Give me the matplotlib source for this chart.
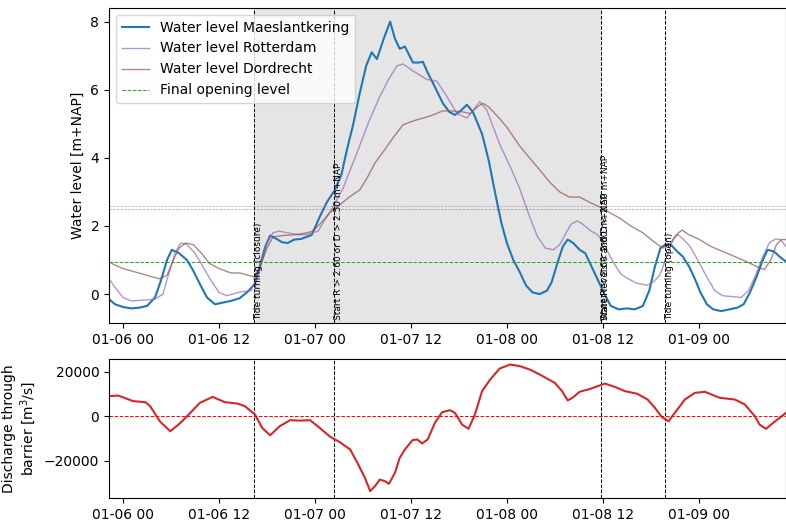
import numpy as np
import pandas as pd
import matplotlib
matplotlib.use("Agg")
import matplotlib.pyplot as plt
import matplotlib.dates as mdates
import matplotlib.transforms as mtransforms

# time axis: hours after 2023-01-06 00:00
base = pd.Timestamp("2023-01-06 00:00")

maes_hours = [-1.75, -1.0, 0.0, 1.0, 2.0, 3.0, 4.0, 4.75, 5.5, 6.1, 7.0, 8.0, 8.75, 9.6,
              10.5, 11.5, 12.5, 13.5, 14.6, 15.5, 16.5, 17.2, 17.8, 18.4, 19.2, 19.9,
              20.6, 21.4, 22.3, 23.6, 24.6, 25.5, 26.5, 27.3, 28.0, 28.8, 29.6, 30.4,
              31.1, 31.75, 32.6, 33.4, 34.0, 34.6, 35.25, 36.25, 37.0, 37.5, 38.1, 38.75,
              40.0, 40.8, 41.5, 42.3, 43.0, 43.75, 44.9, 45.75, 46.5, 47.3, 48.0, 48.8,
              49.6, 50.4, 51.2, 52.1, 53.0, 53.6, 54.3, 55.0, 55.6, 56.3, 57.1, 57.8,
              58.6, 59.4, 60.2, 61.0, 62.0, 63.0, 64.0, 65.0, 65.8, 66.5, 67.2, 67.8,
              68.5, 69.3, 70.0, 70.8, 71.5, 72.2, 73.0, 73.8, 74.8, 75.8, 76.8, 77.6,
              78.4, 79.2, 80.0, 80.6, 81.4, 82.1, 82.9]
maes_level = [-0.15, -0.3, -0.38, -0.42, -0.4, -0.35, -0.1, 0.4, 1.0, 1.3, 1.2, 1.0, 0.7, 0.3,
              -0.1, -0.3, -0.25, -0.2, -0.12, 0.05, 0.3, 0.9, 1.4, 1.72, 1.62, 1.52,
              1.5, 1.6, 1.62, 1.74, 2.27, 2.7, 3.06, 3.5, 4.24, 5.0, 5.9, 6.7,
              7.1, 6.9, 7.5, 8.0, 7.5, 7.2, 7.27, 6.8, 6.8, 6.82, 6.5, 6.2,
              5.6, 5.35, 5.26, 5.4, 5.56, 5.35, 4.7, 3.9, 3.0, 2.1, 1.5, 1.0,
              0.65, 0.25, 0.05, 0.0, 0.1, 0.35, 0.9, 1.4, 1.6, 1.5, 1.3, 1.2,
              0.8, 0.4, 0.0, -0.35, -0.45, -0.42, -0.45, -0.35, 0.1, 0.8, 1.35, 1.45,
              1.45, 1.25, 1.1, 0.8, 0.45, 0.05, -0.3, -0.45, -0.5, -0.45, -0.4, -0.3,
              0.05, 0.5, 1.0, 1.3, 1.25, 1.1, 0.95]

rdam_hours = [-1.75, -1.0, 0.0, 1.0, 2.5, 4.0, 5.0, 5.6, 6.5, 7.2, 8.0, 9.0, 10.0, 11.0,
              12.0, 13.0, 14.6, 16.0, 16.6, 17.1, 18.0, 18.75, 19.5, 20.5, 22.1, 23.0,
              24.4, 25.3, 26.25, 27.5, 28.5, 29.4, 30.8, 32.1, 33.2, 34.25, 35.0, 36.25,
              37.0, 38.0, 39.25, 40.5, 41.75, 43.0, 43.8, 44.6, 45.5, 46.3, 47.1, 48.5,
              49.6, 50.8, 51.8, 52.8, 53.8, 54.6, 55.3, 56.0, 56.8, 57.5, 58.5, 59.3,
              60.0, 60.7, 61.4, 62.2, 63.0, 64.2, 65.5, 66.3, 67.1, 68.0, 68.8, 69.4,
              70.1, 70.9, 72.1, 73.0, 74.0, 75.0, 76.5, 77.3, 78.2, 79.0, 80.0, 80.8,
              81.6, 82.2, 82.9]
rdam_level = [0.45, 0.2, -0.1, -0.2, -0.18, -0.15, 0.0, 0.5, 1.2, 1.5, 1.45, 1.2, 0.8, 0.4,
              0.05, -0.05, 0.06, 0.1, 0.4, 0.7, 1.5, 1.8, 1.85, 1.8, 1.74, 1.75,
              1.85, 2.2, 2.56, 3.1, 3.7, 4.24, 5.1, 5.8, 6.3, 6.7, 6.76, 6.55,
              6.45, 6.3, 6.25, 5.8, 5.3, 5.17, 5.4, 5.65, 5.4, 4.9, 4.4, 3.7,
              3.1, 2.3, 1.7, 1.35, 1.3, 1.45, 1.75, 2.05, 2.15, 2.05, 1.85, 1.75,
              1.55, 1.2, 0.9, 0.6, 0.47, 0.32, 0.26, 0.35, 0.55, 1.1, 1.6, 1.75,
              1.6, 1.4, 0.9, 0.5, 0.1, -0.05, -0.08, -0.1, 0.1, 0.5, 1.1, 1.5,
              1.62, 1.6, 1.4]

dord_hours = [-1.75, -1.0, 0.0, 1.5, 3.0, 4.5, 5.5, 6.3, 7.0, 7.8, 8.8, 9.8, 10.8, 12.0,
              13.5, 14.6, 16.5, 17.3, 18.0, 18.75, 20.0, 21.5, 23.0, 23.75, 24.8, 25.9,
              27.1, 28.3, 29.6, 30.5, 31.5, 32.6, 33.8, 35.0, 36.5, 38.0, 38.75, 40.0,
              41.0, 42.5, 43.4, 44.3, 45.0, 45.7, 46.5, 47.1, 48.0, 49.6, 51.0, 52.1,
              53.3, 54.6, 55.8, 57.1, 58.3, 59.6, 60.8, 62.1, 63.5, 65.0, 66.3, 67.5,
              68.3, 69.2, 69.9, 70.7, 72.1, 73.5, 75.0, 76.5, 78.0, 79.5, 80.2, 81.0,
              81.7, 82.3, 82.9]
dord_level = [0.95, 0.85, 0.75, 0.65, 0.55, 0.45, 0.55, 1.0, 1.35, 1.5, 1.45, 1.2, 0.9, 0.75,
              0.62, 0.62, 0.5, 0.9, 1.35, 1.68, 1.72, 1.74, 1.8, 1.85, 2.1, 2.4,
              2.62, 2.85, 3.06, 3.4, 3.85, 4.2, 4.6, 4.97, 5.1, 5.2, 5.26, 5.38,
              5.38, 5.35, 5.3, 5.5, 5.6, 5.5, 5.3, 5.15, 4.9, 4.35, 3.95, 3.65,
              3.3, 3.0, 2.85, 2.85, 2.7, 2.56, 2.4, 2.23, 2.0, 1.8, 1.55, 1.35,
              1.45, 1.75, 1.88, 1.75, 1.6, 1.4, 1.25, 1.1, 0.95, 0.78, 0.72, 1.0,
              1.45, 1.6, 1.6]

dis_hours = [-1.75, -0.6, 1.25, 2.8, 3.4, 4.6, 5.9, 7.1, 8.1, 9.6, 11.2, 12.75, 14.3, 15.25,
             16.5, 17.4, 18.4, 19.6, 20.9, 22.1, 23.4, 24.6, 25.9, 27.1, 28.4, 29.3,
             30.25, 30.9, 31.5, 32.1, 32.75, 33.25, 34.0, 34.6, 35.25, 36.2, 36.8, 37.4,
             38.1, 39.0, 39.9, 40.9, 41.5, 42.4, 43.2, 44.0, 44.9, 45.9, 47.1, 48.4,
             49.6, 50.9, 52.1, 54.0, 54.9, 55.6, 56.2, 57.1, 58.4, 60.25, 61.5, 62.75,
             64.3, 65.6, 66.5, 67.4, 68.2, 69.0, 70.25, 71.5, 72.75, 74.6, 76.5, 77.75,
             79.0, 79.6, 80.4, 81.2, 82.9]
dis_flow = [9000, 9300, 6800, 6300, 4500, -2300, -6800, -3300, 300, 6000, 8700, 6300, 5700, 4500,
            750, -5300, -8600, -4500, -1800, -2000, -1800, -5300, -9300, -11700, -15000, -21000,
            -27800, -33800, -31600, -28600, -29300, -30500, -25600, -18800, -15000, -10800, -10500, -12300,
            -10500, -3000, 1800, 2700, 1500, -3800, -5700, 750, 11300, 16500, 21500, 23300,
            22600, 21000, 18800, 15000, 11300, 7100, 8300, 11000, 12300, 14700, 13200, 11300,
            10100, 7500, 3800, -500, -2300, 1500, 7500, 10500, 11000, 8300, 7500, 5300,
            0, -3800, -5700, -3300, 1500]

# thresholds and events
final_opening = 0.95
thr_rdam = 2.60
thr_dord = 2.50
event_hours = [16.4, 26.4, 59.75, 67.75]
event_labels = ["Tide turning (closure)", "Start R > 2.60 or D > 2.50 m+NAP",
                "Water levels < 2.60 m+NAP", "Tide turning (open)"]
extra_label = "Start R < 2.60 and D < 2.50 m+NAP"


def to_time(hours):
    return base + pd.to_timedelta(np.array(hours), unit="h")


def main():
    fig = plt.figure(figsize=(7.86, 5.22), dpi=100)
    ax1 = fig.add_axes([0.1387, 0.3812, 0.8613, 0.6034])
    ax2 = fig.add_axes([0.1387, 0.046, 0.8613, 0.2663])

    ev = to_time(event_hours)

    # shaded closed period
    ax1.axvspan(ev[0], ev[2], color="grey", alpha=0.2, lw=0)

    ax1.plot(to_time(maes_hours), maes_level, color="tab:blue", lw=1.5,
             label="Water level Maeslantkering")
    ax1.plot(to_time(rdam_hours), rdam_level, color="tab:purple", alpha=0.7, lw=1,
             label="Water level Rotterdam")
    ax1.plot(to_time(dord_hours), dord_level, color="tab:brown", alpha=0.7, lw=1,
             label="Water level Dordrecht")
    ax1.axhline(final_opening, color="tab:green", ls="--", lw=0.7,
                label="Final opening level")
    ax1.axhline(thr_rdam, color="tab:purple", ls="--", lw=0.5, alpha=0.6)
    ax1.axhline(thr_dord, color="tab:brown", ls="--", lw=0.5, alpha=0.6)

    trans = mtransforms.blended_transform_factory(ax1.transData, ax1.transAxes)
    for t, lab in zip(ev, event_labels):
        for ax in (ax1, ax2):
            ax.axvline(t, color="k", ls="--", lw=0.7)
        ax1.text(t, 0.01, lab, rotation=90, fontsize=6.5, ha="left", va="bottom",
                 transform=trans)
    ax1.text(ev[2], 0.01, extra_label, rotation=90, fontsize=6.5, ha="left",
             va="bottom", transform=trans)

    ax1.set_ylim(-0.85, 8.4)
    ax1.set_ylabel("Water level [m+NAP]")
    ax1.legend(loc="upper left")

    ax2.plot(to_time(dis_hours), dis_flow, color="tab:red", lw=1.5)
    ax2.axhline(0, color="red", ls="--", lw=0.7)
    ax2.set_ylim(-36900, 25800)
    ax2.set_ylabel("Discharge through\nbarrier [m$^3$/s]")

    t0, t1 = to_time([-1.75, 82.9])
    for ax in (ax1, ax2):
        ax.set_xlim(t0, t1)
        ax.xaxis.set_major_locator(mdates.HourLocator(byhour=[0, 12]))
        ax.xaxis.set_major_formatter(mdates.DateFormatter("%m-%d %H"))

    fig.savefig("out.png", dpi=100)


if __name__ == "__main__":
    main()
